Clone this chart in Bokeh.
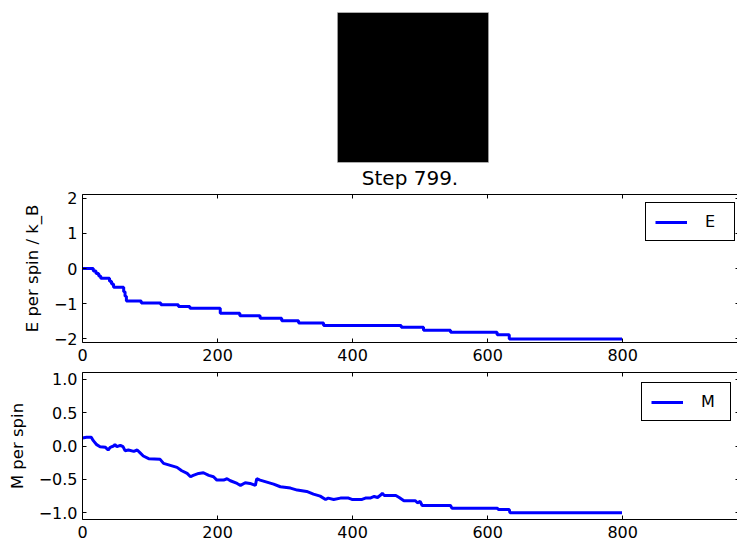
import numpy as np
from bokeh.plotting import figure
from bokeh.layouts import column
from bokeh.models import (Range1d, LinearAxis, FixedTicker, CustomJSTickFormatter,
                          Title, LinearColorMapper)
from bokeh.embed import file_html
from bokeh.resources import INLINE

# ---------------- data ----------------
L = 8
spins = [[-1] * L for _ in range(L)]          # final lattice state: all spins down
step_label = "Step 799."

E_steps = [0, 16, 20, 24, 27, 40, 43, 46, 61, 63, 65, 87, 116, 142, 159, 204, 233,
           263, 295, 320, 357, 472, 505, 545, 614, 632, 799]
E_vals = [0.0, -0.07, -0.14, -0.21, -0.28, -0.36, -0.44, -0.53, -0.66, -0.79, -0.92,
          -0.98, -1.03, -1.08, -1.13, -1.27, -1.34, -1.41, -1.48, -1.55, -1.62, -1.67,
          -1.75, -1.81, -1.88, -2.0, -2.0]

M_steps = [0, 6, 13, 16, 21, 26, 34, 38, 41, 46, 48, 51, 56, 60, 63, 68, 76, 81, 85, 90,
           98, 115, 120, 130, 140, 147, 155, 160, 164, 172, 179, 187, 194, 199, 209, 214,
           219, 229, 234, 241, 248, 256, 258, 263, 273, 283, 293, 308, 318, 332, 342, 352,
           360, 364, 372, 382, 394, 399, 414, 419, 426, 432, 437, 442, 444, 447, 464, 469,
           476, 493, 496, 500, 503, 545, 547, 614, 616, 632, 633, 799]
M_vals = [0.12, 0.13, 0.13, 0.08, 0.02, -0.01, -0.02, -0.06, -0.02, 0.0, 0.02, -0.01,
          0.01, -0.01, -0.07, -0.06, -0.08, -0.06, -0.10, -0.15, -0.19, -0.20, -0.26,
          -0.29, -0.32, -0.37, -0.41, -0.46, -0.44, -0.41, -0.40, -0.44, -0.46, -0.51,
          -0.51, -0.49, -0.52, -0.56, -0.59, -0.55, -0.56, -0.59, -0.49, -0.51, -0.54,
          -0.57, -0.61, -0.63, -0.66, -0.68, -0.72, -0.75, -0.80, -0.78, -0.80, -0.78,
          -0.78, -0.80, -0.80, -0.78, -0.78, -0.755, -0.77, -0.73, -0.71, -0.74, -0.74,
          -0.77, -0.82, -0.82, -0.85, -0.83, -0.89, -0.89, -0.93, -0.93, -0.95, -0.95,
          -1.0, -1.0]

x_ticks = [0, 200, 400, 600, 800]
E_ticks = [-2, -1, 0, 1, 2]
M_ticks = [-1.0, -0.5, 0.0, 0.5, 1.0]
E_label = "E per spin / k_B"
M_label = "M per spin"

FONT = "DejaVu Sans"
W = 737
LEFT = 82
X_END = 970

# ---------------- lattice image ----------------
frame_w = W - LEFT
img_px = 151.0
img_left_px = 255.0          # image left edge, pixels from frame left
s = img_px / L
xa0 = -img_left_px / s
pa = figure(width=W, height=190, x_range=Range1d(xa0, xa0 + frame_w / s), y_range=Range1d(0, L),
            output_backend="svg", toolbar_location=None,
            x_axis_location=None, y_axis_location=None,
            min_border_left=LEFT, min_border_right=0, min_border_top=12, min_border_bottom=27)
pa.grid.visible = False
pa.outline_line_color = None
mapper = LinearColorMapper(palette=["#000000", "#ffffff"], low=-1, high=1)
pa.image(image=[np.array(spins, dtype=float)], x=0, y=0, dw=L, dh=L, color_mapper=mapper)
pa.quad(left=0, right=L, bottom=0, top=L, fill_color=None, line_color="#999999", line_width=1)
pa.add_layout(Title(text=step_label, align="center", offset=3, text_font=FONT, text_font_size="20px",
                    text_font_style="normal", text_color="black", standoff=2), "below")


def style_axis(ax, ticks, fmt_digits=None, standoff=5):
    ax.ticker = FixedTicker(ticks=ticks)
    ax.major_tick_in = 4
    ax.major_tick_out = 0
    ax.minor_tick_line_color = None
    ax.major_tick_line_color = "black"
    ax.major_label_text_font = FONT
    ax.major_label_text_font_size = "16px"
    ax.major_label_text_color = "black"
    ax.major_label_standoff = standoff
    ax.axis_line_color = "black"
    if fmt_digits is not None:
        ax.formatter = CustomJSTickFormatter(
            code="var s = Math.abs(tick).toFixed(%d); return (tick < 0 ? '\\u2212' : '') + s;" % fmt_digits)


def tick_only_axis(ticks, tick_in, line_color):
    return LinearAxis(ticker=FixedTicker(ticks=[], minor_ticks=ticks),
                      major_tick_line_color=None, minor_tick_in=tick_in, minor_tick_out=0,
                      minor_tick_line_color="black", axis_line_color=line_color)


def panel(height, top, bottom, ylo, yhi, yticks, digits, ylabel):
    p = figure(width=W, height=height, x_range=Range1d(0, X_END), y_range=Range1d(ylo, yhi),
               output_backend="svg", toolbar_location=None,
               min_border_left=LEFT, min_border_right=0, min_border_top=top, min_border_bottom=bottom)
    p.grid.visible = False
    p.outline_line_color = None
    style_axis(p.xaxis[0], x_ticks, standoff=6)
    style_axis(p.yaxis[0], yticks, digits)
    p.yaxis.axis_label = ylabel
    p.yaxis.axis_label_text_font = FONT
    p.yaxis.axis_label_text_font_size = "16.5px"
    p.yaxis.axis_label_text_font_style = "normal"
    p.yaxis.axis_label_text_color = "black"
    p.yaxis.axis_label_standoff = 9
    p.add_layout(tick_only_axis(x_ticks, 4, "black"), "above")
    p.add_layout(tick_only_axis(yticks, 2, None), "right")
    return p


def style_legend(p, loc):
    lg = p.legend[0]
    lg.location = loc
    lg.label_text_font = FONT
    lg.label_text_font_size = "16px"
    lg.label_text_color = "black"
    lg.glyph_width = 32
    lg.glyph_height = 16
    lg.label_height = 16
    lg.label_standoff = 18
    lg.padding = 9
    lg.spacing = 0
    lg.border_line_color = "black"
    lg.border_line_width = 1
    lg.border_line_alpha = 1
    lg.background_fill_alpha = 1


pb = panel(178, 4, 26, -2.1, 2.1, E_ticks, 0, E_label)
pb.step(x=E_steps, y=E_vals, mode="after", line_color="#0000ff", line_width=3, legend_label="E")
style_legend(pb, (563, 101))

pc = panel(176, 4, 25, -1.1, 1.1, M_ticks, 1, M_label)
pc.line(x=M_steps, y=M_vals, line_color="#0000ff", line_width=3, legend_label="M")
style_legend(pc, (559, 98))

layout = column(pa, pb, pc, spacing=0)
open("out.html", "w").write(file_html(layout, INLINE))
